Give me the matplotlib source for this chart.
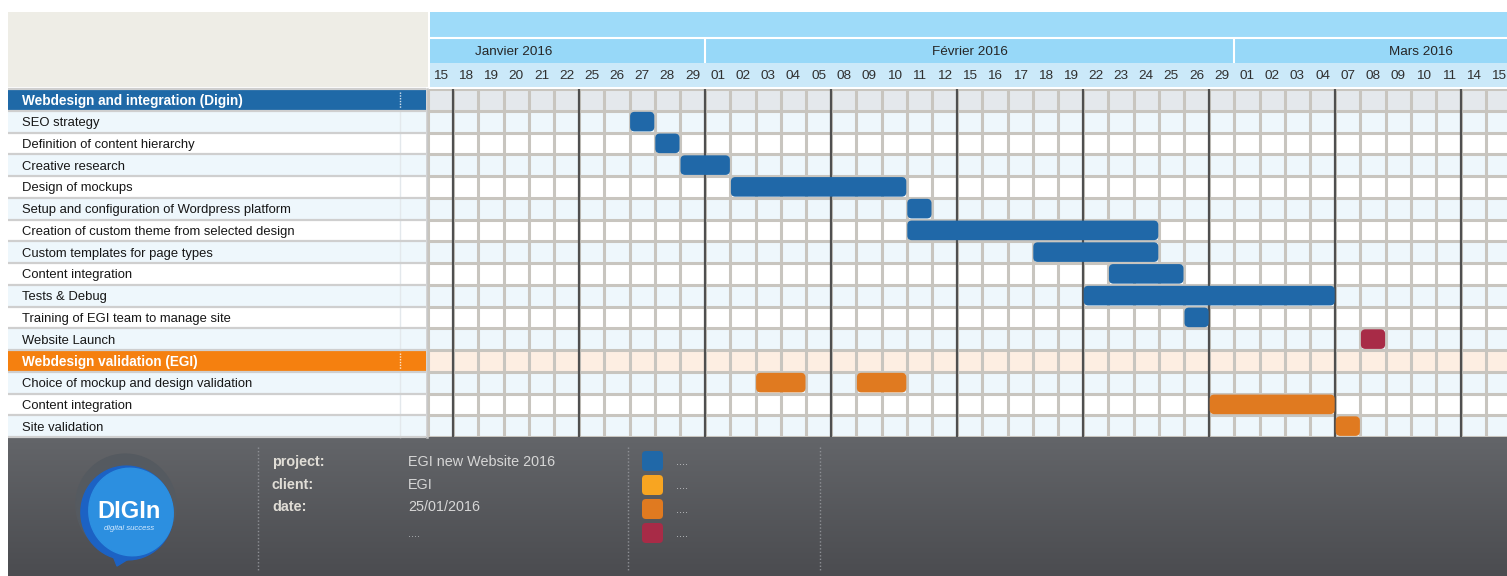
import matplotlib
matplotlib.use("Agg")
import matplotlib.pyplot as plt
from matplotlib.patches import FancyBboxPatch, Rectangle, Ellipse, Polygon
from matplotlib.colors import LinearSegmentedColormap
import numpy as np
import pandas as pd

plt.rcParams['font.family'] = ['Liberation Sans', 'DejaVu Sans']

# ---------------- data ----------------
day_labels = ["15", "18", "19", "20", "21", "22", "25", "26", "27", "28", "29",
              "01", "02", "03", "04", "05", "08", "09", "10", "11", "12",
              "15", "16", "17", "18", "19", "22", "23", "24", "25", "26", "29",
              "01", "02", "03", "04", "07", "08", "09", "10", "11", "14", "15"]
months = ["Janvier 2016", "Février 2016", "Mars 2016"]
calendar = pd.bdate_range("2016-01-15", "2016-03-15")   # working days shown

group_names = ["Webdesign and integration (Digin)", "Webdesign validation (EGI)"]

tasks_g1 = ["SEO strategy", "Definition of content hierarchy", "Creative research",
            "Design of mockups", "Setup and configuration of Wordpress platform",
            "Creation of custom theme from selected design", "Custom templates for page types",
            "Content integration", "Tests & Debug", "Training of EGI team to manage site",
            "Website Launch"]
start_g1 = ["2016-01-27", "2016-01-28", "2016-01-29", "2016-02-02", "2016-02-11",
            "2016-02-11", "2016-02-18", "2016-02-23", "2016-02-22", "2016-02-26", "2016-03-08"]
end_g1 = ["2016-01-27", "2016-01-28", "2016-02-01", "2016-02-10", "2016-02-11",
          "2016-02-24", "2016-02-24", "2016-02-25", "2016-03-04", "2016-02-26", "2016-03-08"]
kind_g1 = ["blue"] * 10 + ["crimson"]

tasks_g2 = ["Choice of mockup and design validation", "Content integration", "Site validation"]
seg_task_g2 = [0, 0, 1, 2]
start_g2 = ["2016-02-03", "2016-02-09", "2016-02-29", "2016-03-07"]
end_g2 = ["2016-02-04", "2016-02-10", "2016-03-04", "2016-03-07"]
kind_g2 = ["orange", "orange", "orange", "orange"]

info_keys = ["project:", "client:", "date:"]
info_vals = ["EGI new Website 2016", "EGI", "25/01/2016", "...."]
legend_kinds = ["blue", "yellow", "orange", "crimson"]
legend_texts = ["....", "....", "....", "...."]

colors = {"blue": "#2068a8", "yellow": "#f8a521", "orange": "#e07a20", "crimson": "#a82b47"}

# ---------------- layout ----------------
W, H = 1507, 576
fig = plt.figure(figsize=(W / 100, H / 100), dpi=100)
fig.patch.set_facecolor("white")

bg = fig.add_axes([0, 0, 1, 1], zorder=0)
bg.set_axis_off()

GX0, GX1 = 428, 1507
GY0, ROWH = 89, 21.75
NROWS = 1 + len(tasks_g1) + 1 + len(tasks_g2)
GY1 = GY0 + NROWS * ROWH
COLW = 25.2
ncols_vis = (GX1 - GX0) / COLW

ax = fig.add_axes([GX0 / W, (H - GY1) / H, (GX1 - GX0) / W, (GY1 - GY0) / H], zorder=2)
ax.set_xlim(0, ncols_vis)
ax.set_ylim(NROWS, 0)
ax.set_axis_off()
ax.patch.set_visible(False)

def rowy(r):
    return GY0 + r * ROWH

LIGHT = "#eef7fc"
GRID = "#c8c5bf"

rows = []
rows.append((group_names[0], "g1"))
for i, t in enumerate(tasks_g1):
    rows.append((t, "alt" if i % 2 == 0 else "white"))
rows.append((group_names[1], "g2"))
for i, t in enumerate(tasks_g2):
    rows.append((t, "alt" if i % 2 == 0 else "white"))

# ---------------- header backgrounds ----------------
bg.add_patch(Rectangle((8, 12), GX0 - 8, 75, color="#eeede6", lw=0))
bg.add_patch(Rectangle((GX0 + 2, 12), W - GX0, 25, color="#9edbf9", lw=0))
bg.add_patch(Rectangle((GX0 + 2, 39), W - GX0, 24, color="#97d8f8", lw=0))
bg.add_patch(Rectangle((GX0 + 2, 63), W - GX0, 24, color="#cbe9f9", lw=0))

# ---------------- left label panel ----------------
for r, (label, kind) in enumerate(rows):
    y0 = rowy(r)
    if kind == "g1":
        fc = "#1f69a7"
    elif kind == "g2":
        fc = "#f5800f"
    elif kind == "alt":
        fc = LIGHT
    else:
        fc = "white"
    bg.add_patch(Rectangle((8, y0), 418, ROWH, facecolor=fc, edgecolor="none"))
    if kind in ("g1", "g2"):
        bg.text(22, y0 + ROWH / 2 + 1.5, label, color="white", fontsize=9.8,
                fontweight="bold", va="center", ha="left")
        bg.plot([400, 400], [y0 + 3, y0 + ROWH - 3], color="white", lw=1, ls=(0, (1, 1)), alpha=0.8)
    else:
        bg.text(22, y0 + ROWH / 2 + 1.5, label, color="#161616", fontsize=9.4,
                va="center", ha="left")
        bg.plot([400, 400], [y0, y0 + ROWH], color="#e3e8ec", lw=1)
for r in range(NROWS + 1):
    bg.plot([8, 426], [rowy(r), rowy(r)], color="#cfcfcf", lw=1.6, solid_capstyle="butt")
bg.plot([427, 427], [GY0, GY1], color="#c8c8c8", lw=1.8)

# ---------------- footer ----------------
cmap = LinearSegmentedColormap.from_list("foot", ["#636569", "#4b4c50"])
bg.imshow(np.linspace(0, 1, 200).reshape(-1, 1), cmap=cmap, aspect="auto",
          extent=[8, W, H, GY1], zorder=1)

# logo
bg.add_patch(Ellipse((126, 505), 100, 102, angle=-20, color="#555a60", zorder=2))
bg.add_patch(Polygon([[110, 548], [117, 566], [138, 553]], closed=True, color="#1c62c4", zorder=3))
bg.add_patch(Ellipse((127, 513), 92, 94, angle=-20, color="#1c62c4", zorder=3))
bg.add_patch(Ellipse((131, 512), 84, 88, angle=-20, color="#2c8fe0", zorder=3))
bg.text(129, 511, "DIGIn", color="white", fontsize=17, fontweight="bold",
        ha="center", va="center", zorder=4)
bg.text(129, 528, "digital success", color="#d5eaff", fontsize=5.6, style="italic",
        ha="center", va="center", zorder=4)

# separators
for xs in (258, 628, 820):
    bg.plot([xs, xs], [447, 570], color="#8e9095", lw=1, ls=(0, (1, 1.5)), zorder=2)

info_y = [462, 485, 507, 533]
for k, y in zip(info_keys, info_y):
    bg.text(272, y, k, color="#e0ddd6", fontsize=10.4, fontweight="bold",
            ha="left", va="center", zorder=4)
for v, y in zip(info_vals, info_y):
    if v == "....":
        bg.text(408, y + 4, v, color="#b8babd", fontsize=8, ha="left", va="baseline", zorder=4)
    else:
        bg.text(408, y, v, color="#d6d6d6", fontsize=10.4, ha="left", va="center", zorder=4)

leg_y = [450, 474, 498, 522]
for kind, txt, y in zip(legend_kinds, legend_texts, leg_y):
    bg.add_patch(FancyBboxPatch((642, y + 1), 21, 20, boxstyle="round,pad=0,rounding_size=4",
                                facecolor=colors[kind], edgecolor="none", zorder=4))
    bg.text(676, y + 15, txt, color="#c8cacd", fontsize=8, ha="left", va="baseline", zorder=4)

bg.set_xlim(0, W)
bg.set_ylim(H, 0)

# ---------------- gantt grid ----------------
col_of = {d: i for i, d in enumerate(calendar)}
ncols = len(calendar)

row_colors = {"g1": "#e4e8ec", "g2": "#fdeee2", "alt": LIGHT, "white": "white"}
for r, (label, kind) in enumerate(rows):
    ax.axhspan(r, r + 1, color=row_colors[kind], lw=0, zorder=0)

ax.vlines(np.arange(0, ncols + 1), 0, NROWS, color=GRID, lw=2.2, zorder=1)
ax.hlines(np.arange(0, NROWS + 1), 0, ncols, color=GRID, lw=2.2, zorder=1)
week_starts = [i for i, d in enumerate(calendar) if d.weekday() == 0]
ax.vlines(week_starts, 0, NROWS, color="#4f4f4f", lw=1.6, zorder=2)

# header labels
for i, lab in enumerate(day_labels):
    ax.text(i + 0.5, (76 - GY0) / ROWH, lab, ha="center", va="center", fontsize=9.7,
            color="#303030", clip_on=False)
month_bounds = [i for i in range(1, ncols) if calendar[i].month != calendar[i - 1].month]
ax.vlines(month_bounds, (39 - GY0) / ROWH, (63 - GY0) / ROWH, color="white", lw=1.5, clip_on=False)
ax.hlines((38 - GY0) / ROWH, 0, ncols_vis, color="white", lw=1.5, clip_on=False)
month_label_x = [3.4, 21.5, 39.4]
for m, xm in zip(months, month_label_x):
    ax.text(xm, (52 - GY0) / ROWH, m, ha="center", va="center", fontsize=9.7,
            color="#262626", clip_on=False)

def draw_bar(row, s, e, kind):
    c0 = col_of[pd.Timestamp(s)]
    c1 = col_of[pd.Timestamp(e)] + 1
    p = FancyBboxPatch((c0 + 0.02, row + 0.05), c1 - c0 - 0.04, 0.9,
                       boxstyle="round,pad=0,rounding_size=0.18", mutation_aspect=1.15,
                       facecolor=colors[kind], edgecolor="none", zorder=3)
    ax.add_patch(p)

for i, (s, e, k) in enumerate(zip(start_g1, end_g1, kind_g1)):
    draw_bar(1 + i, s, e, k)
g2_row0 = 2 + len(tasks_g1)
for t, s, e, k in zip(seg_task_g2, start_g2, end_g2, kind_g2):
    draw_bar(g2_row0 + t, s, e, k)

fig.savefig("out.png", dpi=100, facecolor="white")
